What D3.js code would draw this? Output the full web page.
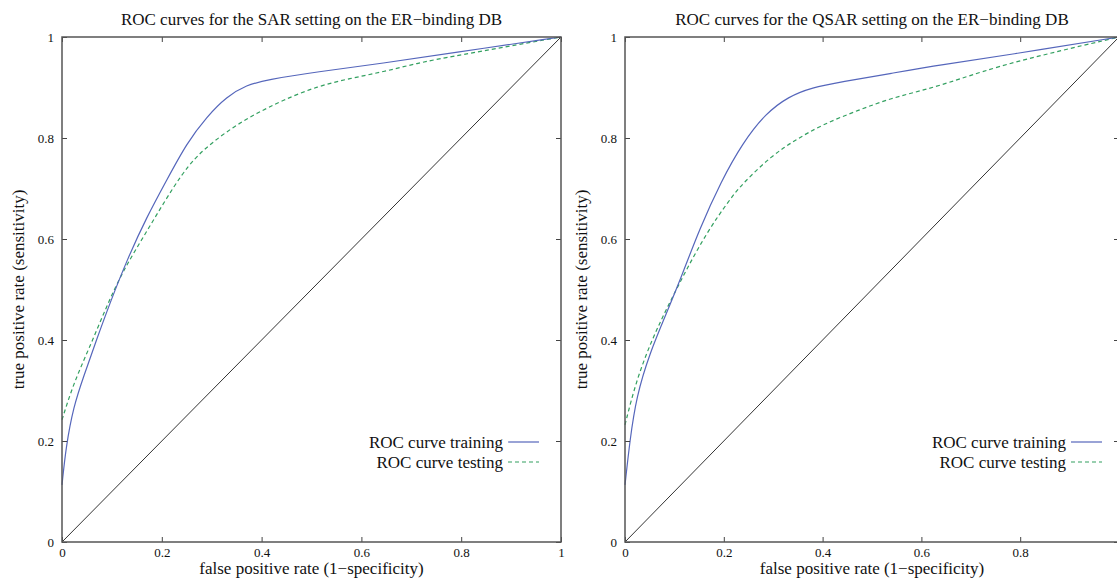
<!DOCTYPE html>
<meta charset="utf-8">
<style>
body {
  background: #fff;
  margin: 0;
  padding: 0;
}
text {
  font-family: 'Liberation Serif', 'Times New Roman', serif;
  fill: #111;
}
.frame {
  fill: none;
  stroke: #555;
  stroke-width: 1.5px;
}
.tick line {
  stroke: #444;
}
.diag {
  fill: none;
  stroke: #333;
  stroke-width: 1px;
}
.train {
  fill: none;
  stroke: #5566bb;
  stroke-width: 1.2px;
}
.test {
  fill: none;
  stroke: #33a060;
  stroke-width: 1.2px;
  stroke-dasharray: 4 3;
}
</style>
<body></body>
<script src="https://cdnjs.cloudflare.com/ajax/libs/d3/7.8.5/d3.min.js"></script>
<script>
var width = 1117,
    height = 578;

var ticks = [0, 0.2, 0.4, 0.6, 0.8, 1];
var tickLabels = ["0", "0.2", "0.4", "0.6", "0.8", "1"];

// SAR setting
var sarTrainFpr = [0, 0.008, 0.023, 0.043, 0.069, 0.096, 0.13, 0.17, 0.21, 0.25, 0.29, 0.33, 0.37, 0.41, 0.51, 0.644, 0.778, 1];
var sarTrainTpr = [0.113, 0.189, 0.268, 0.327, 0.4, 0.473, 0.558, 0.644, 0.717, 0.79, 0.842, 0.882, 0.905, 0.915, 0.931, 0.948, 0.968, 1];
var sarTestFpr = [0, 0.023, 0.056, 0.089, 0.123, 0.17, 0.243, 0.29, 0.343, 0.39, 0.443, 0.51, 0.577, 0.644, 0.711, 0.778, 1];
var sarTestTpr = [0.242, 0.314, 0.387, 0.466, 0.539, 0.615, 0.737, 0.783, 0.822, 0.849, 0.875, 0.902, 0.918, 0.931, 0.948, 0.961, 1];

// QSAR setting
var qsarTrainFpr = [0, 0.01, 0.023, 0.05, 0.084, 0.117, 0.15, 0.195, 0.238, 0.285, 0.331, 0.378, 0.438, 0.539, 0.639, 0.773, 1];
var qsarTrainTpr = [0.113, 0.202, 0.288, 0.374, 0.453, 0.532, 0.618, 0.715, 0.79, 0.849, 0.882, 0.9, 0.911, 0.928, 0.945, 0.964, 1];
var qsarTestFpr = [0, 0.023, 0.057, 0.09, 0.124, 0.167, 0.211, 0.238, 0.298, 0.345, 0.398, 0.472, 0.539, 0.606, 0.673, 0.773, 1];
var qsarTestTpr = [0.232, 0.321, 0.407, 0.473, 0.539, 0.615, 0.677, 0.71, 0.766, 0.796, 0.826, 0.855, 0.879, 0.895, 0.915, 0.948, 1];

var panels = [
  {title: "ROC curves for the SAR setting on the ER\u2212binding DB", x0: 62, x1: 561,
   train: [sarTrainFpr, sarTrainTpr], test: [sarTestFpr, sarTestTpr]},
  {title: "ROC curves for the QSAR setting on the ER\u2212binding DB", x0: 625, x1: 1119,
   train: [qsarTrainFpr, qsarTrainTpr], test: [qsarTestFpr, qsarTestTpr]}
];

var plotTop = 37, plotBottom = 542;

var svg = d3.select("body").append("svg")
    .attr("width", width)
    .attr("height", height);

function zip(a) {
  return a[0].map(function(d, i) { return [d, a[1][i]]; });
}

panels.forEach(function(p) {
  var x = d3.scaleLinear().domain([0, 1]).range([p.x0, p.x1]);
  var y = d3.scaleLinear().domain([0, 1]).range([plotBottom, plotTop]);
  var g = svg.append("g");

  var line = d3.line()
      .x(function(d) { return x(d[0]); })
      .y(function(d) { return y(d[1]); })
      .curve(d3.curveBasis);

  g.append("path").attr("class", "diag")
      .datum([[0, 0], [1, 1]])
      .attr("d", d3.line().x(function(d) { return x(d[0]); }).y(function(d) { return y(d[1]); }));
  g.append("path").attr("class", "test").datum(zip(p.test)).attr("d", line);
  g.append("path").attr("class", "train").datum(zip(p.train)).attr("d", line);

  // axes: labels outside, ticks pointing in, mirrored on top/right
  var fmt = function(d) { return tickLabels[ticks.indexOf(d)]; };
  var xb = g.append("g").attr("transform", "translate(0," + plotBottom + ")")
      .call(d3.axisBottom(x).tickValues(ticks).tickFormat(fmt).tickSize(-5).tickPadding(6));
  var xt = g.append("g").attr("transform", "translate(0," + plotTop + ")")
      .call(d3.axisTop(x).tickValues(ticks).tickFormat("").tickSize(-5));
  var yl = g.append("g").attr("transform", "translate(" + p.x0 + ",0)")
      .call(d3.axisLeft(y).tickValues(ticks).tickFormat(fmt).tickSize(-5).tickPadding(8));
  var yr = g.append("g").attr("transform", "translate(" + p.x1 + ",0)")
      .call(d3.axisRight(y).tickValues(ticks).tickFormat("").tickSize(-5));
  [xb, xt, yl, yr].forEach(function(a) {
    a.select(".domain").remove();
    a.selectAll("text").style("font-family", "'Liberation Serif', serif").style("font-size", "13px").attr("fill", "#111");
  });

  g.append("rect").attr("class", "frame")
      .attr("x", p.x0).attr("y", plotTop)
      .attr("width", p.x1 - p.x0).attr("height", plotBottom - plotTop);

  var cx = (p.x0 + p.x1) / 2;
  g.append("text")
      .attr("x", cx).attr("y", 25)
      .attr("text-anchor", "middle")
      .style("font-size", "17px")
      .text(p.title);
  g.append("text")
      .attr("x", cx).attr("y", 574)
      .attr("text-anchor", "middle")
      .style("font-size", "17px")
      .text("false positive rate (1\u2212specificity)");
  g.append("text")
      .attr("transform", "translate(" + (p.x0 - 38) + "," + ((plotTop + plotBottom) / 2) + ") rotate(-90)")
      .attr("text-anchor", "middle")
      .style("font-size", "17px")
      .text("true positive rate (sensitivity)");

  // legend
  var legend = [
    {label: "ROC curve training", cls: "train", yy: 442},
    {label: "ROC curve testing", cls: "test", yy: 462}
  ];
  legend.forEach(function(l) {
    g.append("text")
        .attr("x", p.x0 + 441).attr("y", l.yy)
        .attr("dy", "0.35em")
        .attr("text-anchor", "end")
        .style("font-size", "17px")
        .text(l.label);
    g.append("line").attr("class", l.cls)
        .attr("x1", p.x0 + 446).attr("x2", p.x0 + 477)
        .attr("y1", l.yy).attr("y2", l.yy);
  });
});
</script>
